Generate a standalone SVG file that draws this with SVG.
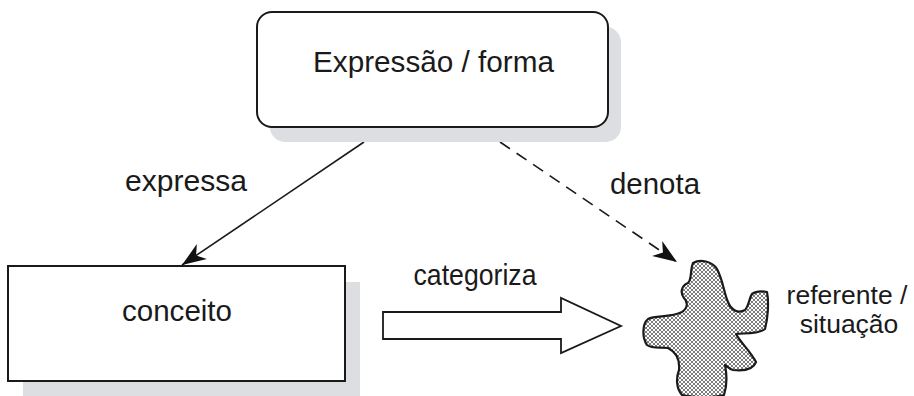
<svg xmlns="http://www.w3.org/2000/svg" width="914" height="396" viewBox="0 0 914 396">
  <style>
    .box { fill: #ffffff; stroke: #1a1a1a; stroke-width: 2; }
    .shadow { fill: #dddee2; stroke: none; }
    .lbl { font-family: "Liberation Sans", Arial, Helvetica, sans-serif; font-size: 29px; fill: #1a1a1a; }
    .side { font-family: "Liberation Sans", Arial, Helvetica, sans-serif; font-size: 26.5px; fill: #1a1a1a; }
    .edge { fill: none; stroke: #1a1a1a; stroke-width: 1.6; }
    .dashed { stroke-dasharray: 12 8; }
  </style>
  <defs>
    <marker id="head" viewBox="-24 -10 26 20" refX="0" refY="0" markerWidth="26" markerHeight="20" markerUnits="userSpaceOnUse" orient="auto">
      <path d="M0,0 L-24,-9 L-17,0 L-24,9 Z" fill="#111111"/>
    </marker>
    <pattern id="mesh" width="4" height="4" patternUnits="userSpaceOnUse">
      <rect width="4" height="4" fill="#5a5a5a"/>
      <circle cx="2" cy="2" r="1.25" fill="#ffffff"/>
      <circle cx="0" cy="0" r="1.25" fill="#ffffff"/>
      <circle cx="4" cy="0" r="1.25" fill="#ffffff"/>
      <circle cx="0" cy="4" r="1.25" fill="#ffffff"/>
      <circle cx="4" cy="4" r="1.25" fill="#ffffff"/>
    </pattern>
  </defs>

  <g id="connectors">
    <line class="edge" x1="364" y1="142" x2="182" y2="265" marker-end="url(#head)"/>
    <line class="edge dashed" x1="500" y1="142" x2="677" y2="262" marker-end="url(#head)"/>
    <text class="lbl" x="186" y="191" text-anchor="middle" textLength="122" lengthAdjust="spacingAndGlyphs">expressa</text>
    <text class="lbl" x="655" y="194" text-anchor="middle" textLength="90" lengthAdjust="spacingAndGlyphs">denota</text>
    <!-- broad block arrow for "categoriza" -->
    <path d="M383,312 L561,312 L561,298 L621,326 L561,353 L561,339 L383,339 Z" fill="#ffffff" stroke="#1a1a1a" stroke-width="1.8" stroke-linejoin="miter"/>
    <text class="lbl" x="475" y="285" text-anchor="middle" textLength="123" lengthAdjust="spacingAndGlyphs">categoriza</text>
  </g>

  <g id="expressao">
    <rect class="shadow" x="270" y="27" width="351" height="115" rx="15"/>
    <rect class="box" x="257" y="12" width="351" height="115" rx="15"/>
    <text class="lbl" x="433.5" y="72" text-anchor="middle" textLength="241" lengthAdjust="spacingAndGlyphs">Expressão / forma</text>
  </g>

  <g id="conceito">
    <rect class="shadow" x="23" y="282" width="337" height="114"/>
    <rect class="box" x="8" y="266" width="337" height="115"/>
    <text class="lbl" x="177" y="321" text-anchor="middle" textLength="110" lengthAdjust="spacingAndGlyphs">conceito</text>
  </g>

  <g id="referente">
    <path d="M693,263 C700,259 712,261 717,269 C723,280 724,293 728,302 C731,310 738,314 745,310 C749,306 749,298 752,294 C756,291 762,291 767,292 C769,302 768,318 765,329 C759,334 745,333 736,334 C741,343 751,352 756,362 C753,370 742,371 733,370 C729,369 727,366 725,365 C727,375 727,386 724,395 C712,398 695,398 682,395 C676,388 676,378 679,370 C680,360 676,352 668,348 C660,347 652,349 647,345 C642,338 642,324 648,319 C656,315 670,318 682,312 C688,308 688,302 684,298 C680,293 681,286 688,283 C692,280 690,270 693,263 Z" fill="url(#mesh)" stroke="#1a1a1a" stroke-width="2.2" stroke-linejoin="round"/>
    <text class="side" x="847" y="304" text-anchor="middle">referente /</text>
    <text class="side" x="849" y="333" text-anchor="middle">situação</text>
  </g>
</svg>
